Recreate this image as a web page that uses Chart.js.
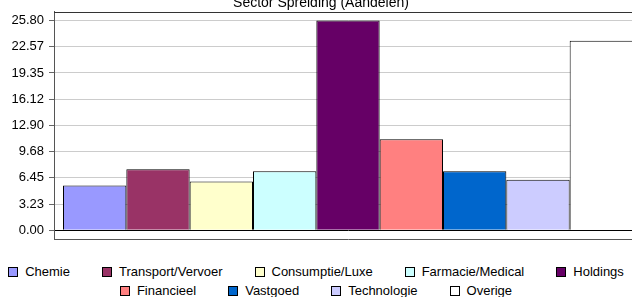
<!DOCTYPE html>
<html><head><meta charset="utf-8">
<script src="https://cdn.jsdelivr.net/npm/chart.js@4/dist/chart.umd.min.js"></script>
<style>
html,body{margin:0;padding:0;background:#fff;overflow:hidden;width:632px;height:297px;}
#wrap{position:absolute;left:0;top:0;width:642px;height:240px;}
#legend{position:absolute;left:0;top:262px;width:632px;font-family:"Liberation Sans",Arial,sans-serif;font-size:13px;color:#000;}
.row{display:flex;justify-content:center;gap:32px;height:19px;align-items:center;}
.item{display:flex;align-items:center;white-space:nowrap;}
.box{width:8px;height:8px;border:1px solid #000;margin-right:7px;}
</style></head><body>
<div id="wrap"><canvas id="c" width="642" height="240"></canvas></div>
<div id="legend"></div>
<script>
const chartTitle = 'Sector Spreiding (Aandelen)';
const categories = ['Chemie','Transport/Vervoer','Consumptie/Luxe','Farmacie/Medical','Holdings','Financieel','Vastgoed','Technologie','Overige'];
const values = [5.5, 7.5, 6.0, 7.25, 25.8, 11.2, 7.25, 6.2, 23.3];
const colors = ['#9999FF','#993366','#FFFFCC','#CCFFFF','#660066','#FF8080','#0066CC','#CCCCFF','#FFFFFF'];
const yTickValues = [0, 3.225, 6.45, 9.675, 12.9, 16.125, 19.35, 22.575, 25.8];
const yTickLabels = ['0.00','3.23','6.45','9.68','12.90','16.12','19.35','22.57','25.80'];
const legendRows = [5, 4];

const frame = {
  id: 'frame',
  beforeDatasetsDraw(chart) {
    const {ctx, chartArea: a} = chart;
    ctx.save();
    ctx.strokeStyle = '#333';
    ctx.lineWidth = 1;
    ctx.beginPath();
    ctx.moveTo(a.left, Math.round(a.top) + 0.5);
    ctx.lineTo(a.right, Math.round(a.top) + 0.5);
    ctx.stroke();
    ctx.restore();
  }
};

new Chart(document.getElementById('c'), {
  type: 'bar',
  data: {
    labels: [''],
    datasets: categories.map((c, i) => ({
      label: c, data: [values[i]], backgroundColor: colors[i],
      borderColor: '#000', borderWidth: 1,
      categoryPercentage: 0.9694, barPercentage: 1
    }))
  },
  options: {
    responsive: false, animation: false, devicePixelRatio: 1,
    layout: {padding: {top: -5, left: 0, right: 0, bottom: 1}},
    plugins: {
      legend: {display: false},
      tooltip: {enabled: false},
      title: {display: true, text: chartTitle, color: '#000',
        font: {family: 'Liberation Sans', size: 14, weight: 'normal'},
        padding: {top: 0, bottom: 0}}
    },
    scales: {
      x: {
        grid: {display: false, drawTicks: false, tickLength: 0},
        ticks: {display: false},
        border: {display: true, color: '#555', width: 1}
      },
      y: {
        min: -1.075, max: 26.875,
        afterBuildTicks: s => { s.ticks = yTickValues.map(v => ({value: v})); },
        afterFit: s => { s.width = 54; s.paddingTop = 0; s.paddingBottom = 0; },
        ticks: {
          callback: (v, i) => yTickLabels[i],
          color: '#000', font: {family: 'Liberation Sans', size: 13},
          padding: 5, autoSkip: false
        },
        grid: {
          color: c => (c.tick && c.tick.value === 0) ? '#000' : '#ccc',
          tickColor: '#666', tickLength: 5, drawTicks: true
        },
        border: {color: '#555', width: 1}
      }
    }
  },
  plugins: [frame]
});

const leg = document.getElementById('legend');
let idx = 0;
legendRows.forEach(n => {
  const row = document.createElement('div');
  row.className = 'row';
  for (let k = 0; k < n; k++, idx++) {
    const it = document.createElement('div');
    it.className = 'item';
    const b = document.createElement('span');
    b.className = 'box';
    b.style.background = colors[idx];
    const t = document.createElement('span');
    t.textContent = categories[idx];
    it.appendChild(b); it.appendChild(t);
    row.appendChild(it);
  }
  leg.appendChild(row);
});
</script>
</body></html>
